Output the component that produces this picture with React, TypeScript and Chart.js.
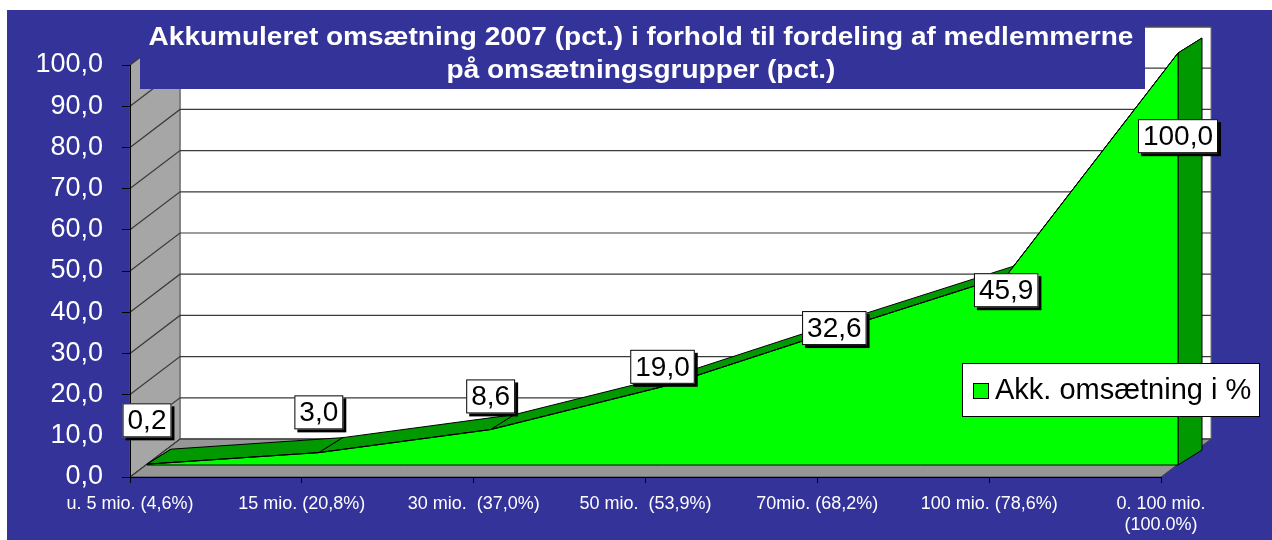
import { useEffect, useRef } from 'react';
import { Chart, registerables } from 'chart.js';

Chart.register(...registerables);

// ---- data ----
const categories: (string | string[])[] = [
  'u. 5 mio. (4,6%)',
  '15 mio. (20,8%)',
  '30 mio.  (37,0%)',
  '50 mio.  (53,9%)',
  '70mio. (68,2%)',
  '100 mio. (78,6%)',
  ['0. 100 mio.', '(100.0%)'],
];
const seriesLabel = 'Akk. omsætning i %';
const seriesValues = [0.2, 3.0, 8.6, 19.0, 32.6, 45.9, 100.0];
const titleLines = [
  'Akkumuleret omsætning 2007 (pct.) i forhold til fordeling af medlemmerne',
  'på omsætningsgrupper (pct.)',
];
const yMin = 0;
const yMax = 100;
const yStep = 10;

// ---- styles ----
const BLUE = '#333399';
const GREEN = '#00ff00';
const DARK_GREEN = '#009900';
const FONT = '"Liberation Sans", Arial, sans-serif';
const WALL_D = { x: 50, y: -38 };
const FACE_D = { x: 17, y: -12 };
const BAND_D = { x: 24, y: -15 };

const fmt = (v: number) => Number(v).toFixed(1).replace('.', ',');

function poly(ctx: CanvasRenderingContext2D, pts: number[][], fill?: string, stroke?: string, lw = 1) {
  ctx.beginPath();
  pts.forEach(([x, y], i) => (i ? ctx.lineTo(x, y) : ctx.moveTo(x, y)));
  ctx.closePath();
  if (fill) {
    ctx.fillStyle = fill;
    ctx.fill();
  }
  if (stroke) {
    ctx.strokeStyle = stroke;
    ctx.lineWidth = lw;
    ctx.stroke();
  }
}

const threeD = {
  id: 'threeD',
  beforeDraw(chart: any) {
    const { ctx, chartArea: a, scales } = chart;
    const y = scales.y;
    ctx.save();
    ctx.fillStyle = '#ffffff';
    ctx.fillRect(0, 0, chart.width, chart.height);
    ctx.fillStyle = BLUE;
    ctx.fillRect(7, 10, chart.width - 7, chart.height - 10);
    const dx = WALL_D.x;
    const dy = WALL_D.y;
    // back wall
    poly(ctx, [
      [a.left + dx, a.top + dy],
      [a.right + dx, a.top + dy],
      [a.right + dx, a.bottom + dy],
      [a.left + dx, a.bottom + dy],
    ], '#ffffff', '#777777');
    // left wall
    poly(ctx, [
      [a.left, a.top],
      [a.left + dx, a.top + dy],
      [a.left + dx, a.bottom + dy],
      [a.left, a.bottom],
    ], '#a6a6a6', '#555555');
    // floor
    poly(ctx, [
      [a.left, a.bottom],
      [a.right, a.bottom],
      [a.right + dx, a.bottom + dy],
      [a.left + dx, a.bottom + dy],
    ], '#969696', '#444444');
    // gridlines on back wall + left wall
    ctx.strokeStyle = '#3a3a3a';
    ctx.lineWidth = 1.2;
    y.ticks.forEach((t: any) => {
      const py = y.getPixelForValue(t.value);
      ctx.beginPath();
      ctx.moveTo(a.left, py);
      ctx.lineTo(a.left + dx, py + dy);
      ctx.lineTo(a.right + dx, py + dy);
      ctx.stroke();
    });
    ctx.restore();
  },
  beforeDatasetsDraw(chart: any) {
    const { ctx, scales } = chart;
    const meta = chart.getDatasetMeta(0);
    const pts = meta.data.map((p: any) => [p.x + FACE_D.x, p.y + FACE_D.y]);
    const base = scales.y.getPixelForValue(0) + FACE_D.y;
    ctx.save();
    ctx.lineJoin = 'round';
    // left end face
    const f = pts[0];
    poly(ctx, [[f[0], base], f, [f[0] + BAND_D.x, f[1] + BAND_D.y], [f[0] + BAND_D.x, base + BAND_D.y]], DARK_GREEN, '#000', 1);
    // top band
    for (let i = 0; i < pts.length - 1; i++) {
      const p = pts[i];
      const q = pts[i + 1];
      poly(ctx, [p, q, [q[0] + BAND_D.x, q[1] + BAND_D.y], [p[0] + BAND_D.x, p[1] + BAND_D.y]], DARK_GREEN, '#000', 1);
    }
    // right end face
    const l = pts[pts.length - 1];
    poly(ctx, [l, [l[0] + BAND_D.x, l[1] + BAND_D.y], [l[0] + BAND_D.x, base + BAND_D.y], [l[0], base]], DARK_GREEN, '#000', 1);
    ctx.restore();
    // shift the front face of the area (fill + line) into its 3D depth
    ctx.save();
    ctx.translate(FACE_D.x, FACE_D.y);
  },
  afterDatasetsDraw(chart: any) {
    const { ctx, scales } = chart;
    ctx.restore();
    const meta = chart.getDatasetMeta(0);
    const pts = meta.data.map((p: any) => [p.x + FACE_D.x, p.y + FACE_D.y]);
    const base = scales.y.getPixelForValue(0) + FACE_D.y;
    ctx.save();
    poly(ctx, [[pts[0][0], base], ...pts, [pts[pts.length - 1][0], base]], undefined, '#000', 1);
    ctx.restore();
  },
  afterDraw(chart: any) {
    const { ctx, scales } = chart;
    const meta = chart.getDatasetMeta(0);
    const ly = scales.yLabel;
    ctx.save();
    // data labels
    ctx.font = `28px ${FONT}`;
    ctx.textAlign = 'center';
    ctx.textBaseline = 'middle';
    seriesValues.forEach((v, i) => {
      const cx = meta.data[i].x + FACE_D.x;
      const cy = ly.getPixelForValue(v);
      const txt = fmt(v);
      const w = ctx.measureText(txt).width + 10;
      const h = 34;
      ctx.fillStyle = '#000';
      ctx.fillRect(cx - w / 2 + 3, cy - h / 2 + 3, w, h);
      ctx.fillStyle = '#fff';
      ctx.fillRect(cx - w / 2, cy - h / 2, w, h);
      ctx.strokeStyle = '#000';
      ctx.lineWidth = 1;
      ctx.strokeRect(cx - w / 2 + 0.5, cy - h / 2 + 0.5, w - 1, h - 1);
      ctx.fillStyle = '#000';
      ctx.fillText(txt, cx, cy + 1);
    });
    // legend
    const ds = chart.data.datasets[0];
    ctx.fillStyle = '#fff';
    ctx.fillRect(962, 363, 298, 54);
    ctx.strokeStyle = '#000';
    ctx.strokeRect(962.5, 363.5, 297, 53);
    ctx.fillStyle = ds.backgroundColor;
    ctx.fillRect(973, 383, 16, 16);
    ctx.strokeRect(973.5, 383.5, 15, 15);
    ctx.fillStyle = '#000';
    ctx.textAlign = 'left';
    ctx.font = `29px ${FONT}`;
    ctx.fillText(ds.label, 995, 391);
    // title
    ctx.fillStyle = BLUE;
    ctx.fillRect(140, 10, 1005, 79);
    ctx.fillStyle = '#fff';
    ctx.font = `bold 25px ${FONT}`;
    ctx.textAlign = 'center';
    ctx.textBaseline = 'alphabetic';
    const baselines = [45, 78];
    titleLines.forEach((t, i) => {
      ctx.save();
      ctx.translate(641, baselines[i]);
      ctx.scale(1.12, 1);
      ctx.fillText(t, 0, 0);
      ctx.restore();
    });
    ctx.restore();
  },
};

export default function App() {
  const ref = useRef<HTMLCanvasElement>(null);
  useEffect(() => {
    const chart = new Chart(ref.current as HTMLCanvasElement, {
      type: 'line',
      data: {
        labels: categories as any,
        datasets: [
          {
            label: seriesLabel,
            data: seriesValues,
            backgroundColor: GREEN,
            borderColor: '#000',
            borderWidth: 1,
            fill: 'origin',
            pointRadius: 0,
            tension: 0,
            clip: false as any,
          },
        ],
      },
      options: {
        responsive: false,
        animation: false,
        devicePixelRatio: 1,
        layout: { padding: { top: 65, right: 111, bottom: 0, left: 0 } },
        plugins: {
          legend: { display: false },
          tooltip: { enabled: false },
          title: { display: false },
          filler: { drawTime: 'beforeDatasetDraw' } as any,
        },
        scales: {
          x: {
            type: 'category',
            offset: false,
            grid: { drawOnChartArea: false, drawTicks: true, tickLength: 6, color: '#000' },
            border: { display: true, color: '#000', width: 1 },
            ticks: {
              color: '#fff',
              font: { family: FONT, size: 18 },
              padding: 10,
              maxRotation: 0,
              minRotation: 0,
              autoSkip: false,
            },
            afterFit(s: any) {
              s.height = 63;
            },
          },
          y: {
            min: yMin,
            max: yMax,
            ticks: {
              stepSize: yStep,
              callback: (v: any) => fmt(v),
              color: '#fff',
              font: { family: FONT, size: 27 },
              padding: 19,
            },
            grid: { drawOnChartArea: false, drawTicks: true, tickLength: 8, color: '#000' },
            border: { display: true, color: '#000', width: 1 },
            afterFit(s: any) {
              s.width = 130;
            },
          },
          yLabel: {
            type: 'linear',
            display: false,
            min: -19.7,
            max: 125,
          },
        },
      },
      plugins: [threeD],
    });
    return () => chart.destroy();
  }, []);
  return (
    <div style={{ position: 'fixed', left: 0, top: 0, width: 1272, height: 540, background: '#fff' }}>
      <canvas ref={ref} width={1272} height={540} style={{ display: 'block', width: 1272, height: 540 }} />
    </div>
  );
}
